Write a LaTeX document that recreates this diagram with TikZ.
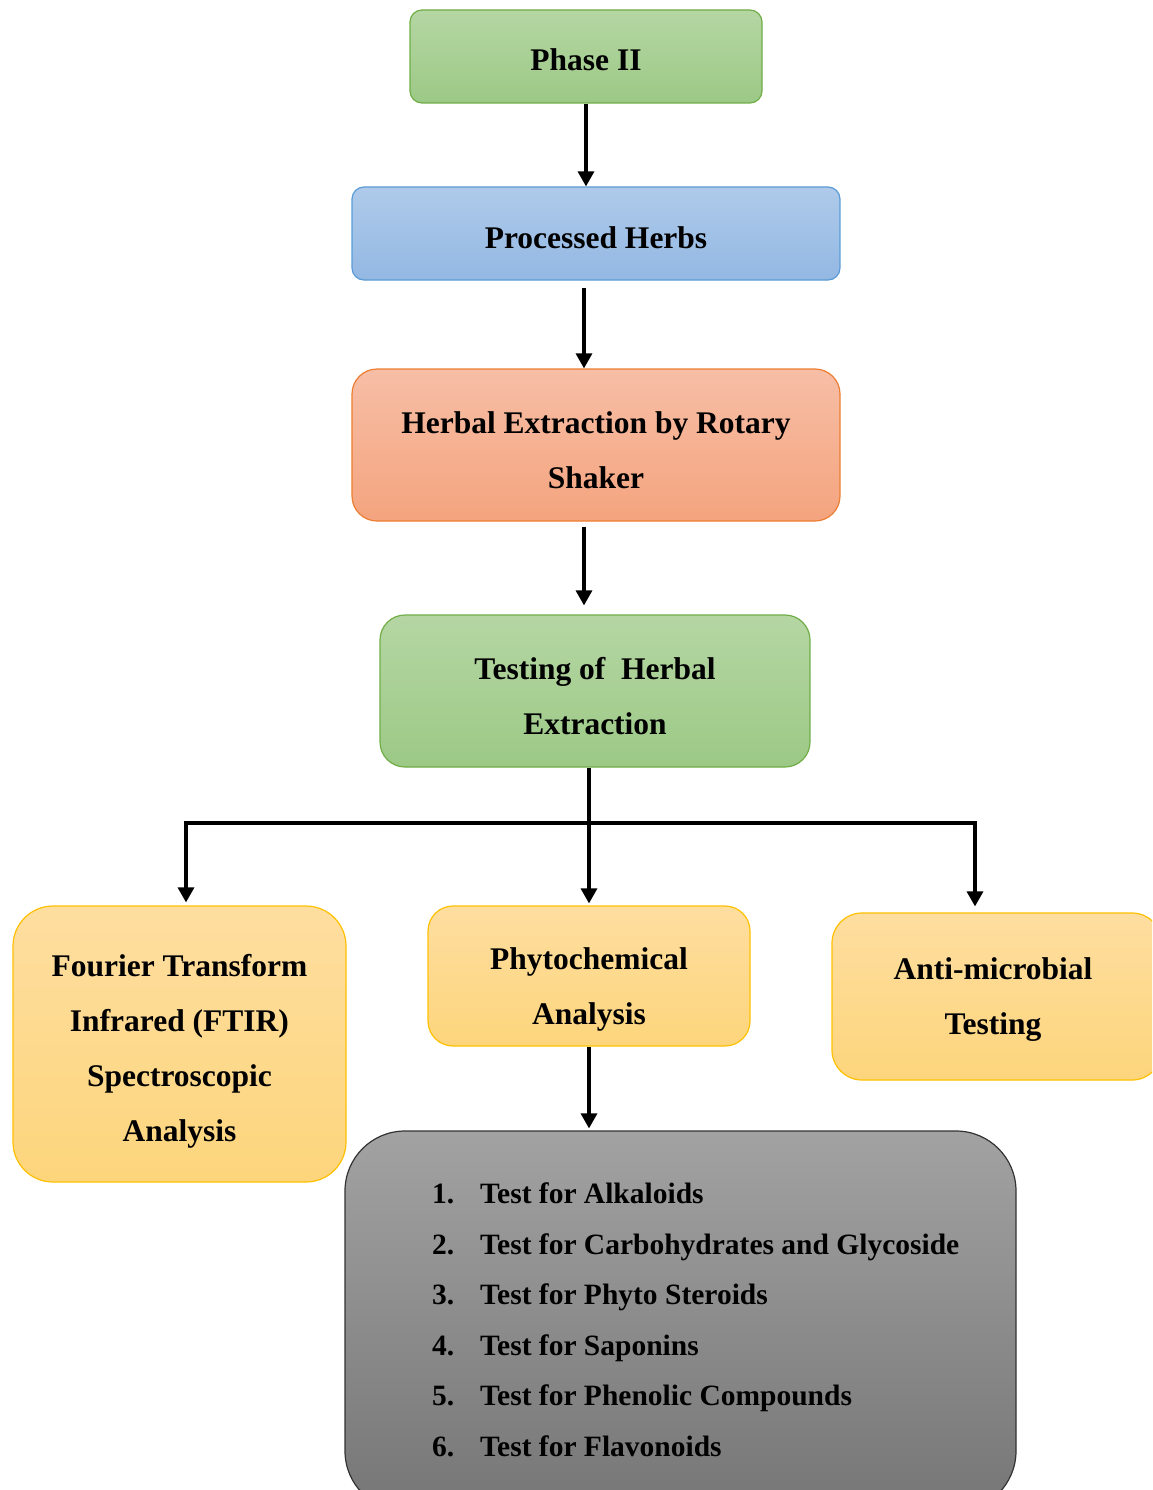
\documentclass[tikz,border=0pt]{standalone}
\usepackage{fontspec}
\setmainfont{Liberation Serif}
\usetikzlibrary{arrows.meta}
\definecolor{gTop}{HTML}{B5D6A3}
\definecolor{gBot}{HTML}{9CC986}
\definecolor{gLine}{HTML}{70AD47}
\definecolor{bTop}{HTML}{AFCAEA}
\definecolor{bBot}{HTML}{93B8E3}
\definecolor{bLine}{HTML}{5B9BD5}
\definecolor{sTop}{HTML}{F7BEA6}
\definecolor{sBot}{HTML}{F4A47E}
\definecolor{sLine}{HTML}{ED7D31}
\definecolor{yTop}{HTML}{FEDEA0}
\definecolor{yBot}{HTML}{FDD57C}
\definecolor{yLine}{HTML}{FFC000}
\definecolor{kTop}{HTML}{A2A2A2}
\definecolor{kBot}{HTML}{767676}
\definecolor{kLine}{HTML}{333333}
\begin{document}
\begin{tikzpicture}[x=1pt,y=-1pt,
  box/.style={draw, line width=1.2pt, inner sep=0pt},
  boxtext/.style={align=center, inner sep=0pt,
    font=\fontsize{31.5}{55}\selectfont\bfseries},
  greenbox/.style={box, draw=gLine, top color=gTop, bottom color=gBot},
  bluebox/.style={box, draw=bLine, top color=bTop, bottom color=bBot},
  salmonbox/.style={box, draw=sLine, top color=sTop, bottom color=sBot},
  yellowbox/.style={box, draw=yLine, top color=yTop, bottom color=yBot},
  graybox/.style={draw=kLine, line width=1.2pt, top color=kTop, bottom color=kBot, inner sep=0pt},
  listtext/.style={align=left, inner sep=0pt, font=\fontsize{29.5}{50.5}\selectfont\bfseries},
  arr/.style={line width=3.2pt, -{Triangle[length=15pt,width=16pt]}},
  bar/.style={line width=3.2pt, line join=miter}
]
\useasboundingbox (0,0) rectangle (1152,1490);
\clip (0,0) rectangle (1152,1490);

\node[greenbox, rounded corners=12pt, minimum width=352pt, minimum height=93pt] (p2) at (586,56.5) {};
\node[bluebox, rounded corners=12pt, minimum width=488pt, minimum height=93pt] (ph) at (596,233.5) {};
\node[salmonbox, rounded corners=25pt, minimum width=488pt, minimum height=152pt] (he) at (596,445) {};
\node[greenbox, rounded corners=25pt, minimum width=430pt, minimum height=152pt] (te) at (595,691) {};
\node[yellowbox, rounded corners=40pt, minimum width=333pt, minimum height=276pt] (ft) at (179.5,1044) {};
\node[yellowbox, rounded corners=25pt, minimum width=322pt, minimum height=140pt] (pa) at (589,976) {};
\node[yellowbox, rounded corners=30pt, minimum width=330pt, minimum height=167pt] (am) at (997,996.5) {};
\node[graybox, rounded corners=60pt, minimum width=671pt, minimum height=380pt] (tl) at (680.5,1321) {};

\node[boxtext] (p2t) at ([yshift=-3pt]p2.center) {Phase II};
\node[boxtext] (pht) at ([yshift=-4pt]ph.center) {Processed Herbs};
\node[boxtext] (het) at ([yshift=-5pt]he.center) {Herbal Extraction by Rotary\\Shaker};
\node[boxtext] (tet) at ([yshift=-5pt]te.center) {Testing of~~Herbal\\Extraction};
\node[boxtext] (ftt) at ([yshift=-7pt]ft.center) {Fourier Transform\\Infrared (FTIR)\\Spectroscopic\\Analysis};
\node[boxtext] (pat) at ([yshift=-13pt]pa.center) {Phytochemical\\Analysis};
\node[boxtext] (amt) at ([xshift=-4pt,yshift=-3pt]am.center) {Anti-microbial\\Testing};
\node[listtext, anchor=north west] (lst) at (432,1183) {%
\makebox[48pt][l]{1.}Test for Alkaloids\\
\makebox[48pt][l]{2.}Test for Carbohydrates and Glycoside\\
\makebox[48pt][l]{3.}Test for Phyto Steroids\\
\makebox[48pt][l]{4.}Test for Saponins\\
\makebox[48pt][l]{5.}Test for Phenolic Compounds\\
\makebox[48pt][l]{6.}Test for Flavonoids};

\coordinate (c1) at (584,0);
\coordinate (bus) at (589,823);
\coordinate (lb) at (186,823);
\coordinate (rb) at (975,823);

\draw[arr] (p2.south) -- (ph.north -| p2.south);
\draw[arr, shorten <=7pt] (ph.south -| c1) -- (he.north -| c1);
\draw[arr, shorten <=5pt, shorten >=9pt] (he.south -| c1) -- (te.north -| c1);
\draw[bar] (te.south -| bus) -- (bus);
\draw[arr, shorten >=3pt] (bus) -- (lb) -- (lb |- ft.north);
\draw[arr, shorten >=6pt] (bus) -- (rb) -- (rb |- am.north);
\draw[arr, shorten >=2pt] (bus) -- (pa.north -| bus);
\draw[arr, shorten >=2pt] (pa.south) -- (tl.north -| pa.south);
\end{tikzpicture}
\end{document}
